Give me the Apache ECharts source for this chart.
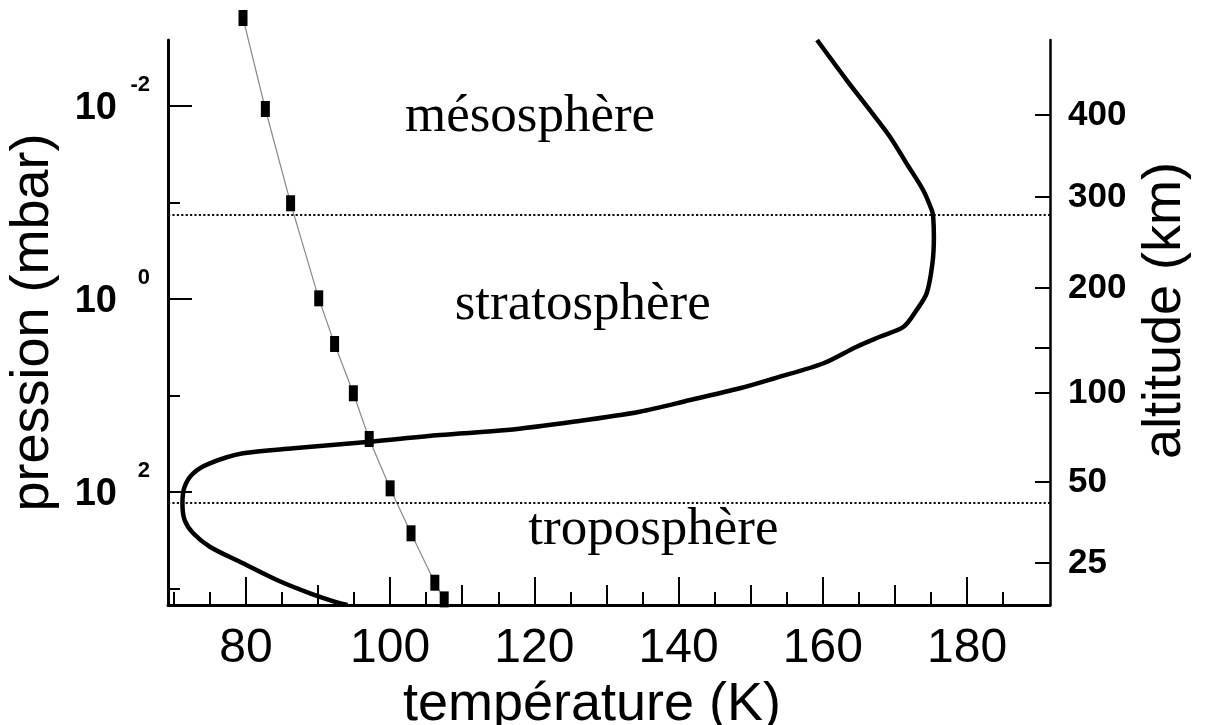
<!DOCTYPE html>
<html lang="fr">
<head>
<meta charset="UTF-8">
<title>Profil de température</title>
<script src="https://cdn.jsdelivr.net/npm/echarts@6/dist/echarts.min.js"></script>
<style>
  html, body { margin: 0; padding: 0; background: #fff; }
  #main { width: 1205px; height: 725px; }
</style>
</head>
<body>
<div id="main"></div>
<script type="text/javascript">
// profil de température : T (K) et log10 de la pression (mbar), de haut en bas
let profilT = [159.2, 163.3, 166.5, 169.3, 171.6, 173.9, 175.1, 175.3, 175.4, 175.2,
    174.4, 173.0, 171.2, 167.9, 164.7, 160.1, 153.4, 148.5, 141.6,
    134.6, 125.4, 116.2, 106.9, 97.2, 86.6, 79.6, 75.0, 72.7, 71.5,
    71.2, 71.5, 72.7, 75.0, 79.6, 84.3, 88.9, 93.0, 94.1];
let profilLogP = [-2.684, -2.269, -1.959, -1.682, -1.406, -1.130, -0.922, -0.853, -0.646, -0.370,
    -0.059, 0.114, 0.287, 0.391, 0.494, 0.666, 0.819, 0.925, 1.047,
    1.168, 1.272, 1.358, 1.409, 1.479, 1.547, 1.599, 1.703, 1.806, 1.945,
    2.117, 2.290, 2.428, 2.567, 2.739, 2.912, 3.050, 3.153, 3.171];

// courbe avec les carrés
let carresT = [79.6, 82.7, 86.2, 90.1, 92.3, 94.9, 97.1, 100.0, 102.9, 106.2, 107.5];
let carresLogP = [-2.912, -1.969, -0.992, -0.007, 0.466, 0.977, 1.451, 1.962, 2.428, 2.940, 3.113];

// pointillés : stratopause, tropopause (log10 mbar)
let pausesLogP = [-0.870, 2.114];

// noms des couches
let couches = ['mésosphère', 'stratosphère', 'troposphère'];
let couchesT = [119.4, 126.7, 136.5];
let couchesLogP = [-1.881, 0.067, 2.399];

// axes
let tMin = 69.2, tMax = 191.5;
let pMin = -2.684, pMax = 3.171;
let ticksT20 = [80, 100, 120, 140, 160, 180];
let ticksT10 = [90, 110, 130, 150, 170];
let ticksT5 = [70, 75, 85, 95, 105, 115, 125, 135, 145, 155, 165, 175, 185];
let decadesLabel = [-2, 0, 2];
let decadesAutres = [-1, 1, 3];
let altKm = [400, 300, 200, 150, 100, 50, 25];
let altLogP = [-1.907, -1.057, -0.114, 0.508, 0.974, 1.896, 2.736];
let altAffiches = [400, 300, 200, 100, 50, 25];

let police = 'Liberation Sans';

function axeT(ticks, len, extra) {
    return Object.assign({
        type: 'value', position: 'bottom', min: tMin, max: tMax,
        axisLine: {show: false, onZero: false},
        splitLine: {show: false},
        axisLabel: {show: false},
        axisTick: {show: true, inside: true, length: len, customValues: ticks,
            lineStyle: {color: '#000', width: 2}}
    }, extra || {});
}

let myChart = echarts.init(document.getElementById('main'));

let option = {
    animation: false,
    backgroundColor: '#fff',
    grid: {left: 168, right: 155, top: 40, bottom: 120, outerBoundsMode: 'none'},
    xAxis: [
        axeT(ticksT20, 28, {
            axisLine: {show: true, onZero: false, lineStyle: {color: '#000', width: 3}},
            axisLabel: {show: true, customValues: ticksT20, margin: 20,
                fontFamily: police, fontSize: 48, color: '#000'},
            name: 'température (K)',
            nameLocation: 'middle',
            nameGap: 69,
            nameTextStyle: {fontFamily: police, fontSize: 54, color: '#000', padding: [0, 34, 0, 0]}
        }),
        axeT(ticksT10, 20),
        axeT(ticksT5, 13)
    ],
    yAxis: [
        {
            type: 'value', position: 'left', inverse: true, min: pMin, max: pMax,
            splitLine: {show: false},
            axisLine: {show: true, onZero: false, lineStyle: {color: '#000', width: 3}},
            axisTick: {show: true, inside: true, length: 24, customValues: decadesLabel,
                lineStyle: {color: '#000', width: 2}},
            axisLabel: {
                customValues: decadesLabel, margin: 18,
                formatter: function (v) { return '{b|10}{s|' + v + '}'; },
                rich: {
                    b: {fontFamily: police, fontWeight: 'bold', fontSize: 38,
                        verticalAlign: 'bottom', padding: [0, 0, 10, 0], color: '#000'},
                    s: {fontFamily: police, fontWeight: 'bold', fontSize: 22, lineHeight: 64,
                        verticalAlign: 'top', width: 28, padding: [0, 0, 0, 5], color: '#000'}
                }
            },
            name: 'pression (mbar)',
            nameLocation: 'middle',
            nameRotate: 90,
            nameGap: 108,
            nameTextStyle: {fontFamily: police, fontSize: 54, color: '#000'}
        },
        {
            type: 'value', position: 'right', inverse: true, min: pMin, max: pMax,
            splitLine: {show: false},
            axisLine: {show: true, onZero: false, lineStyle: {color: '#000', width: 2.5}},
            axisTick: {show: true, inside: true, length: 15, customValues: altLogP,
                lineStyle: {color: '#000', width: 2}},
            axisLabel: {
                customValues: altLogP.filter(function (p, i) { return altAffiches.indexOf(altKm[i]) >= 0; }),
                margin: 18,
                fontFamily: police, fontWeight: 'bold', fontSize: 35, color: '#000',
                formatter: function (v) {
                    let i = altLogP.findIndex(function (a) { return Math.abs(a - v) < 1e-6; });
                    return i >= 0 ? String(altKm[i]) : '';
                }
            },
            name: 'altitude (km)',
            nameLocation: 'middle',
            nameRotate: 90,
            nameGap: 88,
            nameTextStyle: {fontFamily: police, fontSize: 54, color: '#000', padding: [0, 0, 0, 24]}
        },
        {
            type: 'value', position: 'left', inverse: true, min: pMin, max: pMax,
            splitLine: {show: false},
            axisLine: {show: false, onZero: false},
            axisLabel: {show: false},
            axisTick: {show: true, inside: true, length: 12, customValues: decadesAutres,
                lineStyle: {color: '#000', width: 2}}
        }
    ],
    series: [
        {
            name: 'profil',
            type: 'line',
            xAxisIndex: 0, yAxisIndex: 0,
            data: profilT.map(function (t, i) { return [t, profilLogP[i]]; }),
            showSymbol: false,
            smooth: 0.3,
            lineStyle: {color: '#000', width: 4.5},
            markLine: {
                silent: true,
                symbol: ['none', 'none'],
                label: {show: false},
                lineStyle: {color: '#111', width: 2.2, type: 'dotted', opacity: 1},
                data: pausesLogP.map(function (p) { return {yAxis: p}; })
            }
        },
        {
            name: 'carres',
            type: 'line',
            xAxisIndex: 0, yAxisIndex: 0,
            data: carresT.map(function (t, i) { return [t, carresLogP[i]]; }),
            clip: false,
            showAllSymbol: true,
            symbol: 'rect',
            symbolSize: [9, 16],
            itemStyle: {color: '#000'},
            lineStyle: {color: '#8a8a8a', width: 1.2},
            z: 3
        },
        {
            name: 'couches',
            type: 'scatter',
            xAxisIndex: 0, yAxisIndex: 0,
            data: couches.map(function (n, i) { return {name: n, value: [couchesT[i], couchesLogP[i]]}; }),
            symbolSize: 1,
            itemStyle: {color: 'rgba(0,0,0,0)', opacity: 1},
            label: {show: true, position: 'inside', formatter: '{b}', opacity: 1,
                fontFamily: 'Liberation Serif', fontSize: 53, color: '#000'}
        }
    ]
};
myChart.setOption(option);
</script>
</body>
</html>
